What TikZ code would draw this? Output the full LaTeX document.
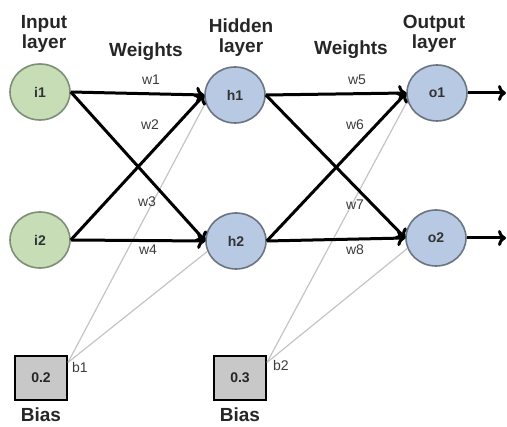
\documentclass[tikz,border=0pt]{standalone}
\usepackage{fontspec}
\setmainfont{Liberation Sans}
\usetikzlibrary{shapes.geometric,arrows.meta,positioning}
\definecolor{inGreen}{HTML}{C6DDB6}
\definecolor{inBorder}{HTML}{7E8E78}
\definecolor{hidBlue}{HTML}{B7C9E3}
\definecolor{hidBorder}{HTML}{6B7480}
\definecolor{biasGray}{HTML}{C8C8C8}
\definecolor{labGray}{HTML}{3C3C3C}
\definecolor{linkGray}{HTML}{C4C4C4}
\tikzset{
myInput/.style={
	ellipse, draw=inBorder, fill=inGreen, line width=1.6pt,
	minimum width=60pt, minimum height=56pt,
	inner sep=0pt, text=black!80, font=\fontsize{14}{14}\selectfont\bfseries
}
, myNeuron/.style={
	myInput, draw=hidBorder, fill=hidBlue
}
, myBias/.style={
	rectangle, draw=black, fill=biasGray, line width=2pt,
	minimum width=52pt, minimum height=44pt,
	inner sep=0pt, text=black!85, font=\fontsize{14}{14}\selectfont\bfseries
}
% texts
, myHeader/.style={
	align=center, inner sep=0pt, text=black!85,
	font=\fontsize{19}{20}\selectfont\bfseries
}
, myWeight/.style={
	inner sep=0pt, text=labGray, font=\fontsize{14}{14}\selectfont
}
% links
, myLink/.style={-{To[length=8pt,width=16pt]},line width=3pt,black}
, myBiasLink/.style={color=linkGray,line width=1.2pt}
}

\begin{document}
\begin{tikzpicture}[x=1pt,y=-1pt]
	\useasboundingbox (0,0) rectangle (507,427);
	% headers
	\node[myHeader, anchor=north] (InputHead) at (44,15) {Input\\layer};
	\node[myHeader, anchor=north] (HiddenHead) at (241,19) {Hidden\\layer};
	\node[myHeader, anchor=north] (OutputHead) at (434,15) {Output\\layer};
	\node[myHeader, anchor=base] (WeightsA) at (146,57) {Weights};
	\node[myHeader, anchor=base] (WeightsB) at (351,55) {Weights};

	% nodes
	\node[myInput] (I1) at (40,92) {i1};
	\node[myInput] (I2) at (40,240) {i2};
	\node[myNeuron] (H1) at (235,95) {h1};
	\node[myNeuron] (H2) at (236,241) {h2};
	\node[myNeuron] (O1) at (437,93) {o1};
	\node[myNeuron] (O2) at (436,238) {o2};
	% bias
	\node[myBias] (BiasA) at (41,378) {0.2};
	\node[myBias] (BiasB) at (240,378) {0.3};
	\node[myHeader, below=7pt of BiasA] (BiasTextA) {Bias};
	\node[myHeader, below=7pt of BiasB] (BiasTextB) {Bias};
	\node[myWeight] (LabB1) at (80,367) {b1};
	\node[myWeight] (LabB2) at (281,365) {b2};

	% bias links
	\draw [myBiasLink] (BiasA.30) -- (H1.195);
	\draw [myBiasLink] (BiasA.30) -- (H2.200);
	\draw [myBiasLink] (BiasB.30) -- (O1.195);
	\draw [myBiasLink] (BiasB.30) -- (O2.200);

	% links
	\draw [myLink] (I1.east) -- (H1.west);
	\draw [myLink] (I1.east) -- (H2.west);
	\draw [myLink] (I2.east) -- (H1.west);
	\draw [myLink] (I2.east) -- (H2.west);
	\draw [myLink] (H1.east) -- (O1.west);
	\draw [myLink] (H1.east) -- (O2.west);
	\draw [myLink] (H2.east) -- (O1.west);
	\draw [myLink] (H2.east) -- (O2.west);
	\coordinate (OutA) at (506,93);
	\coordinate (OutB) at (506,238);
	\draw [myLink] (O1.east) -- (OutA);
	\draw [myLink] (O2.east) -- (OutB);

	% weights
	\node[myWeight] (W1) at (151,80) {w1};
	\node[myWeight] (W2) at (150,125) {w2};
	\node[myWeight] (W3) at (147,202) {w3};
	\node[myWeight] (W4) at (148,250) {w4};
	\node[myWeight] (W5) at (357,80) {w5};
	\node[myWeight] (W6) at (355,125) {w6};
	\node[myWeight] (W7) at (355,205) {w7};
	\node[myWeight] (W8) at (355,250) {w8};
\end{tikzpicture}
\end{document}
